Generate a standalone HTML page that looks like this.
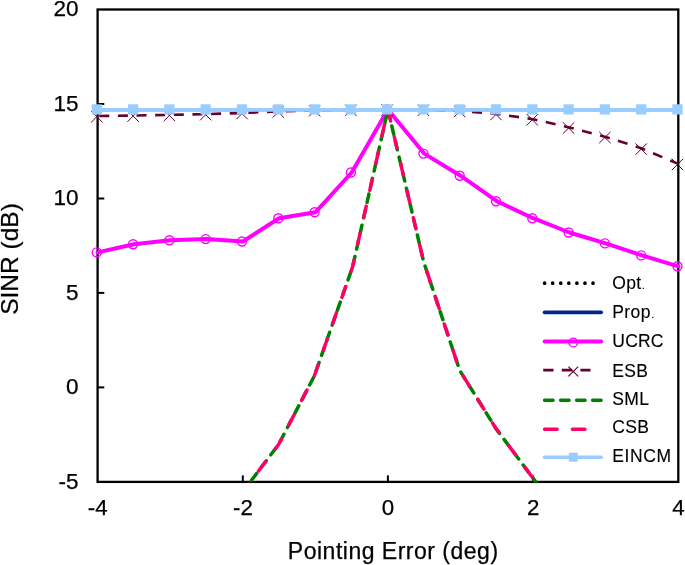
<!DOCTYPE html>
<html><head><meta charset="utf-8"><style>
html,body{margin:0;padding:0;background:#fff;}
body{width:685px;height:565px;overflow:hidden;}
svg{display:block;filter:blur(0.4px);font-family:"Liberation Sans", sans-serif;fill:#000;}
svg text{font-family:"Liberation Sans", sans-serif;stroke:#000;stroke-width:0.25px;}
svg text.lg{stroke-width:0.12px;}
</style></head><body>
<svg width="685" height="565" viewBox="0 0 685 565">
<rect x="0" y="0" width="685" height="565" fill="#fff"/>
<defs><clipPath id="pc"><rect x="96.6" y="9.5" width="582.6999999999999" height="473.0"/></clipPath></defs>
<rect x="97.6" y="9.5" width="580.7" height="472.4" fill="none" stroke="#000" stroke-width="2.3"/>
<line x1="97.6" y1="104.0" x2="104.3" y2="104.0" stroke="#000" stroke-width="2"/>
<line x1="97.6" y1="198.5" x2="104.3" y2="198.5" stroke="#000" stroke-width="2"/>
<line x1="97.6" y1="292.9" x2="104.3" y2="292.9" stroke="#000" stroke-width="2"/>
<line x1="97.6" y1="387.4" x2="104.3" y2="387.4" stroke="#000" stroke-width="2"/>
<line x1="242.8" y1="481.9" x2="242.8" y2="475.4" stroke="#000" stroke-width="2"/>
<line x1="387.9" y1="481.9" x2="387.9" y2="475.4" stroke="#000" stroke-width="2"/>
<line x1="533.1" y1="481.9" x2="533.1" y2="475.4" stroke="#000" stroke-width="2"/>
<g fill="none" stroke-linejoin="round">
<polyline points="96.8,109.8 677.5,109.8" stroke="#00258F" stroke-width="3"/>
<polyline points="97.6,252.4 133.9,244.2 170.2,240.3 206.5,239.1 242.8,241.5 279.1,218.3 315.4,212.3 351.7,172.5 387.9,109.5 424.2,153.6 460.5,175.7 496.8,201.2 533.1,218.2 569.4,232.5 605.7,243.4 642.0,255.4 678.3,266.3" stroke="#FF00FF" stroke-width="4" stroke-linecap="round"/>
<circle cx="96.8" cy="252.4" r="4.5" stroke="#FF00FF" stroke-width="1.4"/>
<circle cx="133.1" cy="244.2" r="4.5" stroke="#FF00FF" stroke-width="1.4"/>
<circle cx="169.4" cy="240.3" r="4.5" stroke="#FF00FF" stroke-width="1.4"/>
<circle cx="205.7" cy="239.1" r="4.5" stroke="#FF00FF" stroke-width="1.4"/>
<circle cx="242.0" cy="241.5" r="4.5" stroke="#FF00FF" stroke-width="1.4"/>
<circle cx="278.3" cy="218.3" r="4.5" stroke="#FF00FF" stroke-width="1.4"/>
<circle cx="314.6" cy="212.3" r="4.5" stroke="#FF00FF" stroke-width="1.4"/>
<circle cx="350.9" cy="172.5" r="4.5" stroke="#FF00FF" stroke-width="1.4"/>
<circle cx="387.1" cy="109.5" r="4.5" stroke="#FF00FF" stroke-width="1.4"/>
<circle cx="423.4" cy="153.6" r="4.5" stroke="#FF00FF" stroke-width="1.4"/>
<circle cx="459.7" cy="175.7" r="4.5" stroke="#FF00FF" stroke-width="1.4"/>
<circle cx="496.0" cy="201.2" r="4.5" stroke="#FF00FF" stroke-width="1.4"/>
<circle cx="532.3" cy="218.2" r="4.5" stroke="#FF00FF" stroke-width="1.4"/>
<circle cx="568.6" cy="232.5" r="4.5" stroke="#FF00FF" stroke-width="1.4"/>
<circle cx="604.9" cy="243.4" r="4.5" stroke="#FF00FF" stroke-width="1.4"/>
<circle cx="641.2" cy="255.4" r="4.5" stroke="#FF00FF" stroke-width="1.4"/>
<circle cx="677.5" cy="266.3" r="4.5" stroke="#FF00FF" stroke-width="1.4"/>
<polyline points="97.6,116.1 133.9,115.5 170.2,114.9 206.5,114.1 242.8,113.0 279.1,111.4 315.4,110.2 351.7,109.7 387.9,109.5 424.2,109.7 460.5,110.9 496.8,113.9 533.1,119.2 569.4,127.4 605.7,136.9 642.0,148.5 678.3,163.9" stroke="#660033" stroke-width="2.6" stroke-dasharray="10 8.645" stroke-dashoffset="16.995"/>
<path d="M91.1,111.0L102.5,122.4M91.1,122.4L102.5,111.0" stroke="#660033" stroke-width="1.0"/>
<path d="M127.4,110.4L138.8,121.8M127.4,121.8L138.8,110.4" stroke="#660033" stroke-width="1.0"/>
<path d="M163.7,109.8L175.1,121.2M163.7,121.2L175.1,109.8" stroke="#660033" stroke-width="1.0"/>
<path d="M200.0,109.0L211.4,120.4M200.0,120.4L211.4,109.0" stroke="#660033" stroke-width="1.0"/>
<path d="M236.3,107.9L247.7,119.3M236.3,119.3L247.7,107.9" stroke="#660033" stroke-width="1.0"/>
<path d="M272.6,106.3L284.0,117.7M272.6,117.7L284.0,106.3" stroke="#660033" stroke-width="1.0"/>
<path d="M308.9,105.1L320.3,116.5M308.9,116.5L320.3,105.1" stroke="#660033" stroke-width="1.0"/>
<path d="M345.2,104.6L356.6,116.0M345.2,116.0L356.6,104.6" stroke="#660033" stroke-width="1.0"/>
<path d="M381.4,104.4L392.8,115.8M381.4,115.8L392.8,104.4" stroke="#660033" stroke-width="1.0"/>
<path d="M417.7,104.6L429.1,116.0M417.7,116.0L429.1,104.6" stroke="#660033" stroke-width="1.0"/>
<path d="M454.0,105.8L465.4,117.2M454.0,117.2L465.4,105.8" stroke="#660033" stroke-width="1.0"/>
<path d="M490.3,108.8L501.7,120.2M490.3,120.2L501.7,108.8" stroke="#660033" stroke-width="1.0"/>
<path d="M526.6,114.1L538.0,125.5M526.6,125.5L538.0,114.1" stroke="#660033" stroke-width="1.0"/>
<path d="M562.9,122.3L574.3,133.7M562.9,133.7L574.3,122.3" stroke="#660033" stroke-width="1.0"/>
<path d="M599.2,131.8L610.6,143.2M599.2,143.2L610.6,131.8" stroke="#660033" stroke-width="1.0"/>
<path d="M635.5,143.4L646.9,154.8M635.5,154.8L646.9,143.4" stroke="#660033" stroke-width="1.0"/>
<path d="M671.8,158.8L683.2,170.2M671.8,170.2L683.2,158.8" stroke="#660033" stroke-width="1.0"/>
<g clip-path="url(#pc)">
<polyline points="236.6,500.0 278.6,444.5 314.3,376.0 352.6,266.9 387.9,109.5 423.7,262.0 459.7,370.4 496.1,428.7 532.5,477.5 549.3,500.0" stroke="#008000" stroke-width="3.5" stroke-dasharray="8.5 7.5" stroke-linecap="round" stroke-dashoffset="7.3"/>
<polyline points="236.6,500.0 278.6,444.5 314.3,376.0 352.6,266.9 387.9,109.5 423.7,262.0 459.7,370.4 496.1,428.7 532.5,477.5 549.3,500.0" stroke="#FF0066" stroke-width="3.5" stroke-dasharray="11.5 16.2" stroke-linecap="round" stroke-dashoffset="19.1"/>
</g>
<polyline points="97.6,109.8 678.3,109.8" stroke="#99CCFF" stroke-width="3.8"/>
<rect x="91.70" y="104.30" width="10.2" height="10.2" fill="#99CCFF"/>
<rect x="127.99" y="104.30" width="10.2" height="10.2" fill="#99CCFF"/>
<rect x="164.29" y="104.30" width="10.2" height="10.2" fill="#99CCFF"/>
<rect x="200.58" y="104.30" width="10.2" height="10.2" fill="#99CCFF"/>
<rect x="236.87" y="104.30" width="10.2" height="10.2" fill="#99CCFF"/>
<rect x="273.17" y="104.30" width="10.2" height="10.2" fill="#99CCFF"/>
<rect x="309.46" y="104.30" width="10.2" height="10.2" fill="#99CCFF"/>
<rect x="345.76" y="104.30" width="10.2" height="10.2" fill="#99CCFF"/>
<rect x="382.05" y="104.30" width="10.2" height="10.2" fill="#99CCFF"/>
<rect x="418.34" y="104.30" width="10.2" height="10.2" fill="#99CCFF"/>
<rect x="454.64" y="104.30" width="10.2" height="10.2" fill="#99CCFF"/>
<rect x="490.93" y="104.30" width="10.2" height="10.2" fill="#99CCFF"/>
<rect x="527.23" y="104.30" width="10.2" height="10.2" fill="#99CCFF"/>
<rect x="563.52" y="104.30" width="10.2" height="10.2" fill="#99CCFF"/>
<rect x="599.81" y="104.30" width="10.2" height="10.2" fill="#99CCFF"/>
<rect x="636.11" y="104.30" width="10.2" height="10.2" fill="#99CCFF"/>
<rect x="672.40" y="104.30" width="10.2" height="10.2" fill="#99CCFF"/>
</g>
<text x="78.6" y="16.2" text-anchor="end" font-size="22.5">20</text>
<text x="78.6" y="110.7" text-anchor="end" font-size="22.5">15</text>
<text x="78.6" y="205.2" text-anchor="end" font-size="22.5">10</text>
<text x="78.6" y="299.6" text-anchor="end" font-size="22.5">5</text>
<text x="78.6" y="394.1" text-anchor="end" font-size="22.5">0</text>
<text x="78.6" y="488.6" text-anchor="end" font-size="22.5">-5</text>
<text x="97.7" y="515.3" text-anchor="middle" font-size="22.3">-4</text>
<text x="242.9" y="515.3" text-anchor="middle" font-size="22.3">-2</text>
<text x="388.0" y="515.3" text-anchor="middle" font-size="22.3">0</text>
<text x="533.2" y="515.3" text-anchor="middle" font-size="22.3">2</text>
<text x="678.4" y="515.3" text-anchor="middle" font-size="22.3">4</text>
<text x="393.2" y="559.0" text-anchor="middle" font-size="23" letter-spacing="0.5">Pointing Error (deg)</text>
<text transform="translate(18.2,259.0) rotate(-90)" text-anchor="middle" font-size="24.5">SINR (dB)</text>
<line x1="544.6" y1="283.2" x2="593.12" y2="283.2" stroke="#000" stroke-width="3.7" stroke-linecap="round" stroke-dasharray="0 8.07"/>
<line x1="544.6" y1="312.3" x2="601.2" y2="312.3" stroke="#00258F" stroke-width="3.7" stroke-linecap="round"/>
<line x1="544.6" y1="341.5" x2="601.2" y2="341.5" stroke="#FF00FF" stroke-width="3.8" stroke-linecap="round"/>
<circle cx="573.3" cy="342.5" r="4.4" stroke="#FF00FF" stroke-width="1.4" fill="none"/>
<line x1="543.2" y1="370.2" x2="590.5" y2="370.2" stroke="#660033" stroke-width="2.7" stroke-dasharray="10.3 8.3"/>
<path d="M568.4,366.6L578.1999999999999,376.4M568.4,376.4L578.1999999999999,366.6" stroke="#660033" stroke-width="1.2" fill="none"/>
<line x1="544.6" y1="400.2" x2="601.2" y2="400.2" stroke="#008000" stroke-width="3.5" stroke-dasharray="8.5 7.5" stroke-linecap="round"/>
<line x1="544.6" y1="429.3" x2="586" y2="429.3" stroke="#FF0066" stroke-width="3.5" stroke-dasharray="12.5 15.3" stroke-linecap="round"/>
<line x1="544.6" y1="457.2" x2="601.2" y2="457.2" stroke="#99CCFF" stroke-width="3.6" stroke-linecap="round"/>
<rect x="568.8" y="452.7" width="9" height="9" fill="#99CCFF"/>
<text class="lg" x="612.3" y="289.2" font-size="17.5" letter-spacing="0.3">Opt<tspan font-size="11" dx="0.3">.</tspan></text>
<text class="lg" x="612.3" y="317.6" font-size="17.5" letter-spacing="0.4">Prop<tspan font-size="11" dx="0.3">.</tspan></text>
<text class="lg" x="612.3" y="346.6" font-size="17.5" letter-spacing="0.2">UCRC</text>
<text class="lg" x="612.3" y="377.4" font-size="17.5" letter-spacing="0.3">ESB</text>
<text class="lg" x="612.3" y="405.0" font-size="17.5" letter-spacing="0.3">SML</text>
<text class="lg" x="612.3" y="433.2" font-size="17.5" letter-spacing="0.3">CSB</text>
<text class="lg" x="612.3" y="462.3" font-size="17.5" letter-spacing="0.6">EINCM</text>
</svg>
</body></html>
